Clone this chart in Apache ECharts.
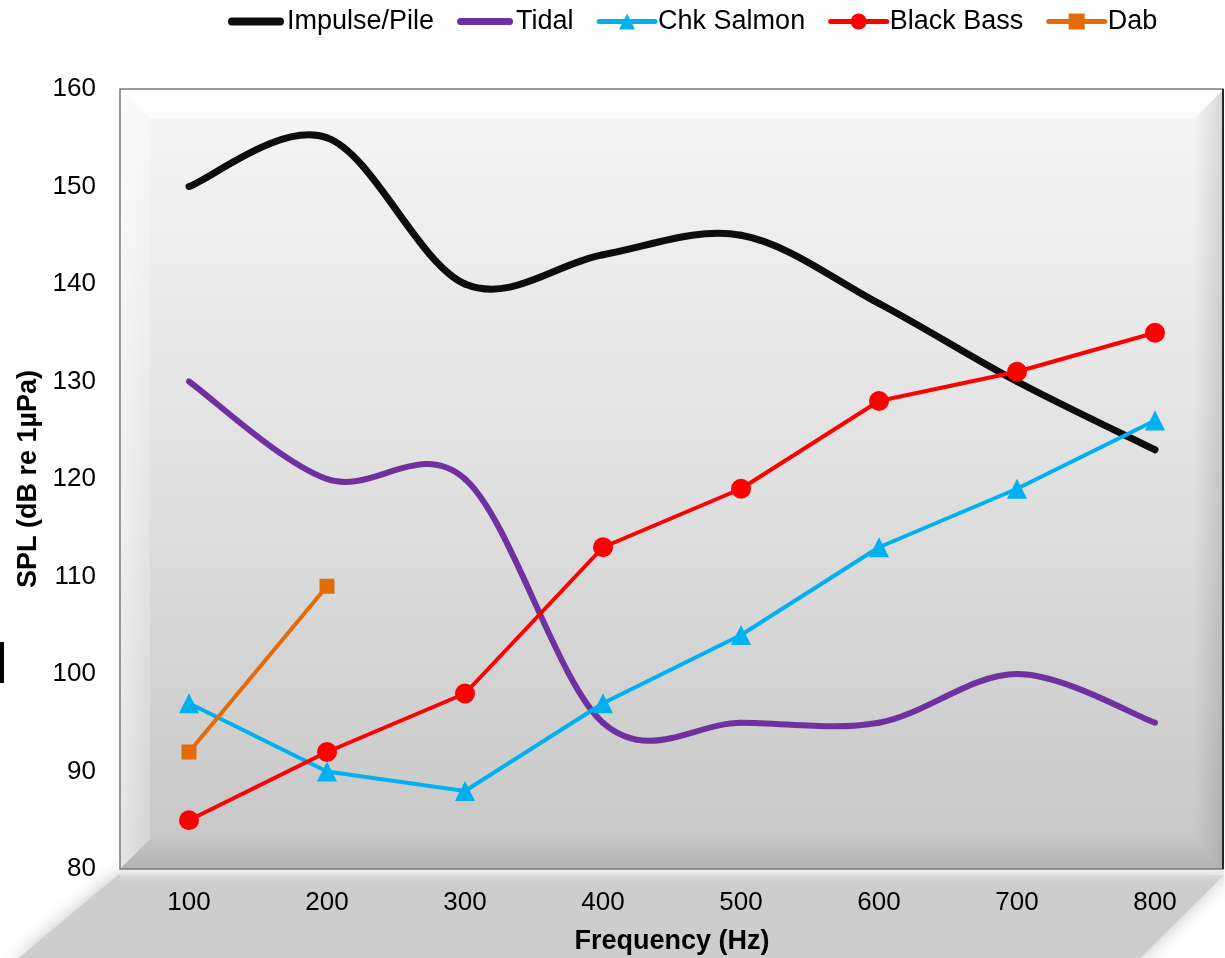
<!DOCTYPE html>
<html>
<head>
<meta charset="utf-8">
<script src="https://cdn.jsdelivr.net/npm/echarts@6/dist/echarts.min.js"></script>
<style>
  html, body { margin: 0; padding: 0; background: #fff; }
  #chart { width: 1225px; height: 958px; }
</style>
</head>
<body>
<div id="chart"></div>
<script>
// Frequency bands (Hz)
const frequencies = ['100', '200', '300', '400', '500', '600', '700', '800'];

// Sound pressure levels, dB re 1µPa
const impulsePile = [150, 155, 140, 143, 145, 138, 130, 123];
const tidal = [130, 120, 120, 95, 95, 95, 100, 95];
const chkSalmon = [97, 90, 88, 97, 104, 113, 119, 126];
const blackBass = [85, 92, 98, 113, 119, 128, 131, 135];
const dab = [92, 109, null, null, null, null, null, null];

const yTicks = { min: 80, max: 160, step: 10 };

// Plot frame geometry (px)
const G = { left: 120, top: 89, width: 1104, height: 780 };
const GR = G.left + G.width, GB = G.top + G.height, BEV = 30;

const font = 'Liberation Sans, Arial, sans-serif';

const chart = echarts.init(document.getElementById('chart'), null, { renderer: 'canvas' });

const frameGraphics = [
  // floor shadow under the plot
  {
    type: 'polygon', z: -10, silent: true,
    shape: { points: [[G.left - 2, GB + 6], [GR, GB + 6], [1136, 962], [14, 962]] },
    style: { fill: '#cdcdcd', shadowBlur: 18, shadowColor: 'rgba(195,195,195,1)' }
  },
  {
    type: 'rect', z: -9, silent: true,
    shape: { x: G.left, y: GB, width: G.width, height: 18 },
    style: { fill: new echarts.graphic.LinearGradient(0, 0, 0, 1, [
      { offset: 0, color: '#efefef' }, { offset: 1, color: 'rgba(205,205,205,0)' }]) }
  },
  // plot face
  {
    type: 'rect', z: -5, silent: true,
    shape: { x: G.left, y: G.top, width: G.width, height: G.height },
    style: { fill: new echarts.graphic.LinearGradient(0, 0, 0, 1, [
      { offset: 0, color: '#f6f6f6' }, { offset: 0.5, color: '#e0e0e0' }, { offset: 1, color: '#c6c6c6' }]) }
  },
  // bevel: top
  {
    type: 'polygon', z: -4, silent: true,
    shape: { points: [[G.left, G.top], [GR, G.top], [GR - BEV, G.top + BEV], [G.left + BEV, G.top + BEV]] },
    style: { fill: new echarts.graphic.LinearGradient(0, 0, 0, 1, [
      { offset: 0, color: '#ffffff' }, { offset: 1, color: '#fbfbfb' }]) }
  },
  // bevel: left
  {
    type: 'polygon', z: -4, silent: true,
    shape: { points: [[G.left, G.top], [G.left + BEV, G.top + BEV], [G.left + BEV, GB - BEV], [G.left, GB]] },
    style: { fill: new echarts.graphic.LinearGradient(0, 0, 1, 0, [
      { offset: 0, color: 'rgba(255,255,255,0.55)' }, { offset: 1, color: 'rgba(255,255,255,0.2)' }]) }
  },
  // bevel: right
  {
    type: 'polygon', z: -4, silent: true,
    shape: { points: [[GR, G.top], [GR, GB], [GR - BEV, GB - BEV], [GR - BEV, G.top + BEV]] },
    style: { fill: new echarts.graphic.LinearGradient(0, 0, 1, 0, [
      { offset: 0, color: 'rgba(0,0,0,0.0)' }, { offset: 1, color: 'rgba(0,0,0,0.13)' }]) }
  },
  // bevel: bottom
  {
    type: 'polygon', z: -4, silent: true,
    shape: { points: [[G.left, GB], [G.left + BEV, GB - BEV], [GR - BEV, GB - BEV], [GR, GB]] },
    style: { fill: new echarts.graphic.LinearGradient(0, 0, 0, 1, [
      { offset: 0, color: 'rgba(0,0,0,0.02)' }, { offset: 1, color: 'rgba(0,0,0,0.10)' }]) }
  },
  // frame outline
  {
    type: 'rect', z: -3, silent: true,
    shape: { x: G.left, y: G.top, width: G.width - 1, height: G.height },
    style: { fill: null, stroke: '#7a7a7a', lineWidth: 1.5 }
  },
  {
    type: 'line', z: -3, silent: true,
    shape: { x1: GR - 1, y1: G.top, x2: GR - 1, y2: GB },
    style: { stroke: '#262626', lineWidth: 2 }
  },
  // small mark at the left edge
  {
    type: 'rect', z: 5, silent: true,
    shape: { x: 0, y: 642, width: 4, height: 41 },
    style: { fill: '#000' }
  }
];

// Smoothed curve drawn segment by segment (cardinal spline, tension 1/6),
// each data item draws the piece that leaves its point.
function smoothSeries(name, values, color, width) {
  return {
    name, type: 'custom',
    data: values.map((v, i) => [i, v]),
    encode: { x: 0, y: 1 },
    itemStyle: { color },
    z: 3,
    silent: true,
    renderItem(params, api) {
      const i = params.dataIndex;
      const n = values.length;
      if (i >= n - 1) return null;
      const p = k => api.coord([Math.max(0, Math.min(n - 1, k)), values[Math.max(0, Math.min(n - 1, k))]]);
      const p0 = p(i - 1), p1 = p(i), p2 = p(i + 1), p3 = p(i + 2);
      const c1 = [p1[0] + (p2[0] - p0[0]) / 6, p1[1] + (p2[1] - p0[1]) / 6];
      const c2 = [p2[0] - (p3[0] - p1[0]) / 6, p2[1] - (p3[1] - p1[1]) / 6];
      return {
        type: 'path',
        shape: {
          pathData: `M${p1[0]},${p1[1]} C${c1[0]},${c1[1]} ${c2[0]},${c2[1]} ${p2[0]},${p2[1]}`
        },
        style: { fill: null, stroke: color, lineWidth: width, lineCap: 'round', lineJoin: 'round' }
      };
    }
  };
}

function lineSeries(name, data, color, width, symbol, symbolSize) {
  return {
    name, type: 'line', data,
    symbol, symbolSize,
    connectNulls: false,
    lineStyle: { color, width, cap: 'round', join: 'round' },
    itemStyle: { color },
    emphasis: { disabled: true },
    z: 3
  };
}

// rounded bar used as legend key for the curves
const barIcon = h => `path://M${h / 2},0 H${56 - h / 2} A${h / 2},${h / 2} 0 0 1 ${56 - h / 2},${h} H${h / 2} A${h / 2},${h / 2} 0 0 1 ${h / 2},0 Z`;

const option = {
  animation: false,
  backgroundColor: '#ffffff',
  textStyle: { fontFamily: font },
  graphic: frameGraphics,
  legend: {
    top: 8, left: 228, padding: 0,
    itemWidth: 56, itemHeight: 20, itemGap: 23,
    lineStyle: { width: 5, cap: 'round' },
    textStyle: { fontSize: 27, color: '#000', fontFamily: font, padding: [0, 0, 0, -2] },
    data: [
      { name: 'Impulse/Pile', icon: barIcon(8) },
      { name: 'Tidal', icon: barIcon(7) },
      'Chk Salmon', 'Black Bass', 'Dab'
    ]
  },
  grid: {
    left: G.left, top: G.top, width: G.width, height: G.height,
    containLabel: false, outerBoundsMode: 'none'
  },
  xAxis: {
    type: 'category', data: frequencies, boundaryGap: true,
    name: 'Frequency (Hz)', nameLocation: 'middle', nameGap: 59,
    nameTextStyle: { fontSize: 27, fontWeight: 'bold', color: '#000', fontFamily: font },
    axisLine: { show: false }, axisTick: { show: false },
    axisLabel: { fontSize: 26, color: '#000', margin: 21, fontFamily: font },
    splitLine: { show: false }
  },
  yAxis: {
    type: 'value', min: yTicks.min, max: yTicks.max, interval: yTicks.step,
    name: 'SPL (dB re 1µPa)', nameLocation: 'middle', nameGap: 76,
    nameTextStyle: { fontSize: 27, fontWeight: 'bold', color: '#000', fontFamily: font },
    axisLine: { show: false }, axisTick: { show: false },
    axisLabel: { fontSize: 26, color: '#000', margin: 24, fontFamily: font },
    splitLine: { show: false }
  },
  series: [
    smoothSeries('Impulse/Pile', impulsePile, '#0d0d0d', 7),
    smoothSeries('Tidal', tidal, '#7030a0', 6),
    lineSeries('Chk Salmon', chkSalmon, '#00b0f0', 4, 'triangle', 20),
    lineSeries('Black Bass', blackBass, '#ff0000', 4, 'circle', 20),
    lineSeries('Dab', dab, '#e36c09', 4, 'rect', 15)
  ]
};

chart.setOption(option);
</script>
</body>
</html>
